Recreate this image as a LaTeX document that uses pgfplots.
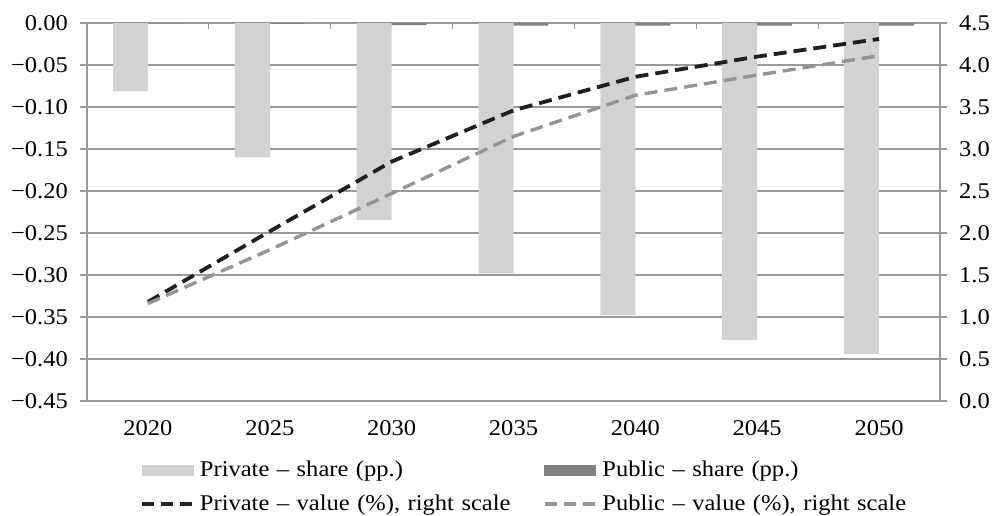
\documentclass[border=0pt]{standalone}
\usepackage{fontspec}
\setmainfont{Liberation Serif}[FakeStretch=1.09]
\usepackage{pgfplots}
\pgfplotsset{compat=1.18}
\definecolor{axgray}{HTML}{9A9A9C}
\definecolor{privbar}{HTML}{D1D2D4}
\definecolor{pubbar}{HTML}{808285}
\definecolor{privline}{HTML}{231F20}
\definecolor{publine}{HTML}{939598}
\newcommand{\tf}{\fontsize{22.5}{27}\selectfont}
\begin{document}
\tf
\begin{tikzpicture}
\path[use as bounding box] (-87pt,-114pt) rectangle (905pt,401pt);
\begin{axis}[
  scale only axis, width=853pt, height=378pt,
  xmin=-0.5, xmax=6.5, ymin=-0.45, ymax=0,
  axis x line*=top, axis y line*=left,
  axis line style={draw=axgray, line width=1.3pt},
  ymajorgrids,
  major grid style={draw=axgray, line width=1.3pt},
  tick align=outside,
  major tick length=7pt,
  every tick/.style={draw=axgray, line width=1.2pt},
  xtick={0.5,1.5,2.5,3.5,4.5,5.5}, xticklabels={},
  xtick style={yshift=-6pt},
  ytick={-0.45,-0.40,-0.35,-0.30,-0.25,-0.20,-0.15,-0.10,-0.05,0},
  yticklabels={−0.45,−0.40,−0.35,−0.30,−0.25,−0.20,−0.15,−0.10,−0.05,0.00},
  yticklabel style={font=\tf, inner sep=0pt, anchor=east, xshift=-12pt},
]
\addplot[ybar, bar width=0.287, bar shift=-0.1435, fill=privbar, draw=none]
  coordinates {(0,-0.081) (1,-0.160) (2,-0.2345) (3,-0.298) (4,-0.3476) (5,-0.3774) (6,-0.394)};
\addplot[ybar, bar width=0.287, bar shift=0.1435, fill=pubbar, draw=none]
  coordinates {(0,-0.0005) (1,-0.001) (2,-0.0025) (3,-0.003) (4,-0.003) (5,-0.003) (6,-0.003)};
\end{axis}
\begin{axis}[
  scale only axis, width=853pt, height=378pt,
  xmin=-0.5, xmax=6.5, ymin=0, ymax=4.5,
  axis x line*=bottom, axis y line*=right,
  x axis line style={draw=none},
  y axis line style={draw=axgray, line width=1.3pt},
  tick align=outside,
  major tick length=7pt,
  every tick/.style={draw=axgray, line width=1.2pt},
  xtick={0,1,2,3,4,5,6},
  xticklabels={2020,2025,2030,2035,2040,2045,2050},
  xtick style={draw=none},
  xticklabel style={font=\tf, inner sep=0pt, anchor=north, yshift=-12pt},
  ytick={0,0.5,1,1.5,2,2.5,3,3.5,4,4.5},
  yticklabels={0.0,0.5,1.0,1.5,2.0,2.5,3.0,3.5,4.0,4.5},
  yticklabel style={font=\tf, inner sep=0pt, anchor=west, xshift=12pt},
  legend columns=2,
  legend style={at={(0.0621,-0.152)}, anchor=north west, draw=none, fill=none,
    inner sep=0pt, font=\tf, row sep=11pt, column sep=0pt,
    cells={anchor=west},
    nodes={inner xsep=6pt, inner ysep=0pt, text height=18pt, text depth=5pt, text width=337pt}},
]
\addlegendimage{legend image code/.code={\fill[privbar] (0pt,-5pt) rectangle (51pt,5pt);}}
\addlegendentry{Private – share (pp.)}
\addlegendimage{legend image code/.code={\fill[pubbar] (0pt,-5pt) rectangle (51pt,5pt);}}
\addlegendentry{Public – share (pp.)}
\addplot[draw=privline, line width=3.8pt, dash pattern=on 13pt off 7pt,
  legend image code/.code={\draw[privline, line width=3.8pt, dash pattern=on 12pt off 7pt] (0pt,0pt) -- (50pt,0pt);}]
  coordinates {(0,1.18) (1,2.02) (2,2.85) (3,3.46) (4,3.86) (5,4.10) (6,4.31)};
\addlegendentry{Private – value (\%), right scale}
\addplot[draw=publine, line width=3.4pt, dash pattern=on 13pt off 7pt,
  legend image code/.code={\draw[publine, line width=3.4pt, dash pattern=on 12pt off 7pt] (0pt,0pt) -- (50pt,0pt);}]
  coordinates {(0,1.16) (1,1.80) (2,2.47) (3,3.15) (4,3.64) (5,3.88) (6,4.11)};
\addlegendentry{Public – value (\%), right scale}
\end{axis}
\end{tikzpicture}
\end{document}
